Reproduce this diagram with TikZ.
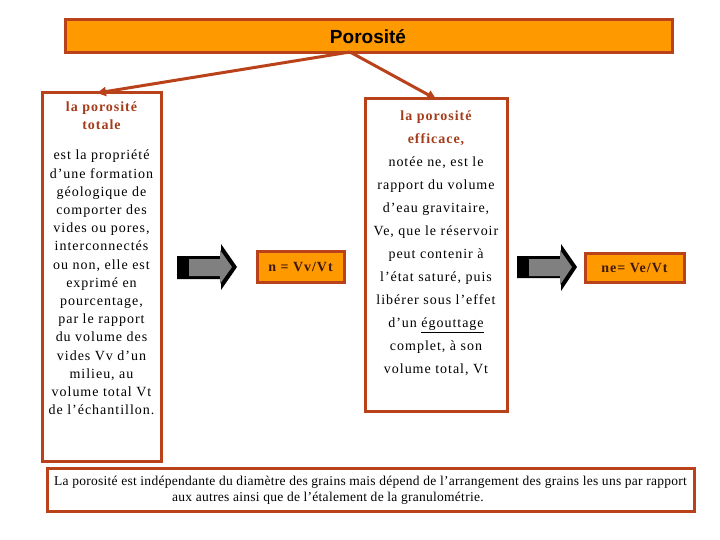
\documentclass[tikz,border=0pt]{standalone}
\usepackage{fontspec}
\setmainfont{Liberation Serif}
\newfontfamily\arialfont{Liberation Sans}
\usetikzlibrary{arrows.meta}
\definecolor{brd}{RGB}{185,66,26}
\definecolor{org}{RGB}{255,153,0}
\definecolor{ttl}{RGB}{165,60,25}
\definecolor{gry}{RGB}{128,128,128}
\definecolor{dk}{RGB}{60,25,10}
\tikzset{
  box/.style={draw=brd, line width=3pt, rectangle, inner sep=0pt},
  obox/.style={box, fill=org},
  conn/.style={draw=brd, line width=3pt, -{Triangle[length=9pt,width=9pt]}},
  body/.style={align=center, inner sep=0pt, text=black},
  blk/.style={fill=black},
  gfill/.style={fill=gry}
}
\begin{document}
\begin{tikzpicture}[x=1pt,y=-1pt]
\useasboundingbox[fill=white] (0,0) rectangle (720,540);
% boxes
\node[obox, minimum width=607pt, minimum height=33pt] (top) at (368.5,36.5) {};
\node[inner sep=0pt, anchor=base] (toptext) at (368,44) {\arialfont\bfseries\fontsize{19}{22}\selectfont Porosité};
\node[box, minimum width=119pt, minimum height=368pt] (left) at (101.5,277) {};
\node[box, minimum width=142pt, minimum height=312pt] (right) at (436,255) {};
\node[box, minimum width=647pt, minimum height=43pt] (bottom) at (370.5,489.5) {};
\node[obox, minimum width=87pt, minimum height=31pt] (n) at (300.5,266.5) {\textcolor{dk}{\bfseries\fontsize{14}{16}\selectfont\addfontfeatures{LetterSpace=7}n = Vv/Vt}};
\node[obox, minimum width=99pt, minimum height=29pt] (ne) at (634.5,267.5) {\textcolor{dk}{\bfseries\fontsize{14}{16}\selectfont\addfontfeatures{LetterSpace=7}ne= Ve/Vt}};
% texts
\node[body, text=ttl, font=\bfseries\fontsize{14}{18}\selectfont\addfontfeatures{LetterSpace=7}] (ltitle) at (101.5,116) {la porosité\\totale};
\node[body, font=\fontsize{14}{18.2}\selectfont\addfontfeatures{LetterSpace=7}] (lbody) at (101.5,282.5) {est la propriété\\d’une formation\\géologique de\\comporter des\\vides ou pores,\\interconnectés\\ou non, elle est\\exprimé en\\pourcentage,\\par le rapport\\du volume des\\vides Vv d’un\\milieu, au\\volume total Vt\\de l’échantillon.};
\node[body, font=\fontsize{14}{23}\selectfont\addfontfeatures{LetterSpace=7}] (rbody) at (436,243.5) {\textcolor{ttl}{\bfseries la porosité}\\\textcolor{ttl}{\bfseries efficace,}\\notée ne, est le\\rapport du volume\\d’eau gravitaire,\\Ve, que le réservoir\\peut contenir à\\l’état saturé, puis\\libérer sous l’effet\\d’un \underline{égouttage}\\complet, à son\\volume total, Vt};
\node[inner sep=0pt, font=\fontsize{13.5}{15}\selectfont\addfontfeatures{LetterSpace=2}] (bl1) at (370.5,482) {La porosité est indépendante du diamètre des grains mais dépend de l’arrangement des grains les uns par rapport};
\node[inner sep=0pt, anchor=west, font=\fontsize{13.5}{15}\selectfont\addfontfeatures{LetterSpace=2}] (bl2) at (172,498) {aux autres ainsi que de l’étalement de la granulométrie.};
% connectors
\coordinate (split) at (350,52);
\coordinate (lin) at (97,93);
\coordinate (rin) at (436,99);
\draw[conn] (split) -- (lin);
\draw[conn] (split) -- (rin);
% block arrows
\fill[blk] (177,256) -- (221,256) -- (221,244) -- (237,267) -- (221,290) -- (221,279) -- (177,279) -- cycle;
\fill[gfill] (189,259) -- (220,259) -- (220,250) -- (232,267) -- (220,284) -- (220,276) -- (189,276) -- cycle;
\fill[blk] (517,256) -- (561,256) -- (561,244) -- (577,267) -- (561,291) -- (561,278) -- (517,278) -- cycle;
\fill[gfill] (529,259) -- (560,259) -- (560,250) -- (572,267) -- (560,285) -- (560,276) -- (529,276) -- cycle;
\end{tikzpicture}
\end{document}
